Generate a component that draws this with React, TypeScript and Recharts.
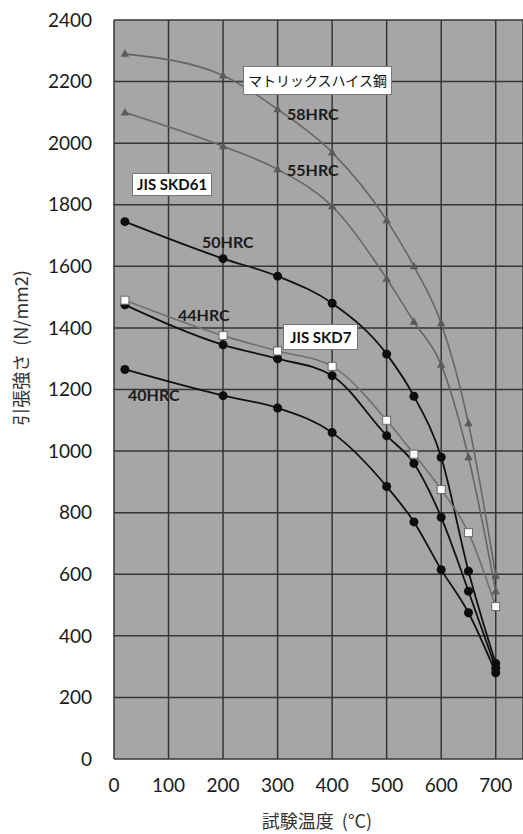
import React from "react";
import { CartesianGrid, Line, LineChart, XAxis, YAxis } from "recharts";

// test temperature (°C)
const temps = [20, 200, 300, 400, 500, 550, 600, 650, 700];

// tensile strength (N/mm2)
const matrix58 = [2290, 2220, 2110, 1970, 1750, 1600, 1415, 1090, 595];
const matrix55 = [2100, 1990, 1915, 1795, 1560, 1420, 1280, 980, 545];
const skd61_50 = [1745, 1625, 1568, 1480, 1315, 1178, 980, 610, 310];
const skd7 = [1490, 1375, 1325, 1275, 1100, 990, 875, 735, 495];
const skd61_44 = [1475, 1345, 1300, 1245, 1050, 960, 785, 545, 295];
const skd61_40 = [1265, 1180, 1140, 1060, 885, 770, 615, 475, 280];

const xTicks = [0, 100, 200, 300, 400, 500, 600, 700];
const yTicks = [0, 200, 400, 600, 800, 1000, 1200, 1400, 1600, 1800, 2000, 2200, 2400];

const boxedLabels = ["マトリックスハイス鋼", "JIS SKD61", "JIS SKD7"];
const hrcLabels = ["58HRC", "55HRC", "50HRC", "44HRC", "40HRC"];

const data = temps.map((t, i) => ({
  t,
  m58: matrix58[i],
  m55: matrix55[i],
  s50: skd61_50[i],
  sk7: skd7[i],
  s44: skd61_44[i],
  s40: skd61_40[i]
}));

const FONT = "Lato, 'Noto Sans CJK JP', sans-serif";

function Triangle(props: any) {
  const { cx, cy, index } = props;
  if (cx == null || cy == null) return <g key={index} />;
  return (
    <path
      key={index}
      d={`M${cx},${cy - 4.5} L${cx + 4.2},${cy + 3} L${cx - 4.2},${cy + 3} Z`}
      fill="#5a5a5a"
    />
  );
}

function Square(props: any) {
  const { cx, cy, index } = props;
  if (cx == null || cy == null) return <g key={index} />;
  return (
    <rect key={index} x={cx - 4} y={cy - 4} width={8} height={8} fill="#ffffff" stroke="#6a6a6a" strokeWidth={1} />
  );
}

function Dot(props: any) {
  const { cx, cy, index } = props;
  if (cx == null || cy == null) return <g key={index} />;
  return <circle key={index} cx={cx} cy={cy} r={4.5} fill="#0d0d0d" />;
}

const boxStyle: React.CSSProperties = {
  position: "absolute",
  background: "#ffffff",
  border: "1px solid #777",
  color: "#111",
  fontSize: 15,
  lineHeight: "21px",
  padding: "0 4px",
  whiteSpace: "nowrap"
};

const hrcStyle: React.CSSProperties = {
  position: "absolute",
  color: "#1a1a1a",
  fontSize: 16,
  fontWeight: 700,
  lineHeight: "16px",
  whiteSpace: "nowrap"
};

export default function App() {
  return (
    <div style={{ position: "absolute", left: 0, top: 0, width: 523, height: 834, background: "#fff", fontFamily: FONT }}>
      <LineChart
        width={523}
        height={834}
        data={data}
        margin={{ top: 20, right: 0, left: 0, bottom: 0 }}
        style={{ fontFamily: FONT }}
      >
        <CartesianGrid fill="#a6a6a6" stroke="#353535" strokeWidth={1.5} />
        <XAxis
          dataKey="t"
          type="number"
          domain={[0, 750]}
          ticks={xTicks}
          height={75}
          axisLine={false}
          tickLine={false}
          tickMargin={14}
          tick={{ fill: "#1a1a1a", fontSize: 19 }}
        />
        <YAxis
          type="number"
          domain={[0, 2400]}
          ticks={yTicks}
          width={114}
          axisLine={false}
          tickLine={false}
          tickMargin={16}
          tick={{ fill: "#1a1a1a", fontSize: 19 }}
        />
        <Line type="monotone" dataKey="m58" stroke="#666666" strokeWidth={1.6} dot={Triangle} isAnimationActive={false} />
        <Line type="monotone" dataKey="m55" stroke="#666666" strokeWidth={1.6} dot={Triangle} isAnimationActive={false} />
        <Line type="monotone" dataKey="s50" stroke="#111111" strokeWidth={1.8} dot={Dot} isAnimationActive={false} />
        <Line type="monotone" dataKey="s44" stroke="#111111" strokeWidth={1.8} dot={Dot} isAnimationActive={false} />
        <Line type="monotone" dataKey="s40" stroke="#111111" strokeWidth={1.8} dot={Dot} isAnimationActive={false} />
        <Line type="monotone" dataKey="sk7" stroke="#707070" strokeWidth={1.6} dot={Square} isAnimationActive={false} />
      </LineChart>

      <div style={{ ...boxStyle, left: 243, top: 66, fontFamily: "'Noto Sans CJK JP', sans-serif", fontSize: 14, lineHeight: "27px" }}>
        {boxedLabels[0]}
      </div>
      <div style={{ ...boxStyle, left: 132, top: 173, fontWeight: 700, fontSize: 15 }}>{boxedLabels[1]}</div>
      <div style={{ ...boxStyle, left: 283, top: 324, fontWeight: 700, fontSize: 15, lineHeight: "24px", padding: "0 6px" }}>
        {boxedLabels[2]}
      </div>

      <div style={{ ...hrcStyle, left: 287, top: 106 }}>{hrcLabels[0]}</div>
      <div style={{ ...hrcStyle, left: 287, top: 162 }}>{hrcLabels[1]}</div>
      <div style={{ ...hrcStyle, left: 202, top: 234 }}>{hrcLabels[2]}</div>
      <div style={{ ...hrcStyle, left: 178, top: 307 }}>{hrcLabels[3]}</div>
      <div style={{ ...hrcStyle, left: 128, top: 387 }}>{hrcLabels[4]}</div>

      <div
        style={{
          position: "absolute",
          left: 20,
          top: 348,
          transform: "translate(-50%, -50%) rotate(-90deg)",
          whiteSpace: "nowrap",
          fontSize: 18,
          color: "#333",
          fontFamily: "'Noto Sans CJK JP', sans-serif"
        }}
      >
        引張強さ&nbsp;&nbsp;(N/mm2)
      </div>
      <div
        style={{
          position: "absolute",
          left: 317,
          top: 820,
          transform: "translate(-50%, -50%)",
          whiteSpace: "nowrap",
          fontSize: 18,
          color: "#333",
          fontFamily: "'Noto Sans CJK JP', sans-serif"
        }}
      >
        試験温度&nbsp;&nbsp;(°C)
      </div>
    </div>
  );
}
